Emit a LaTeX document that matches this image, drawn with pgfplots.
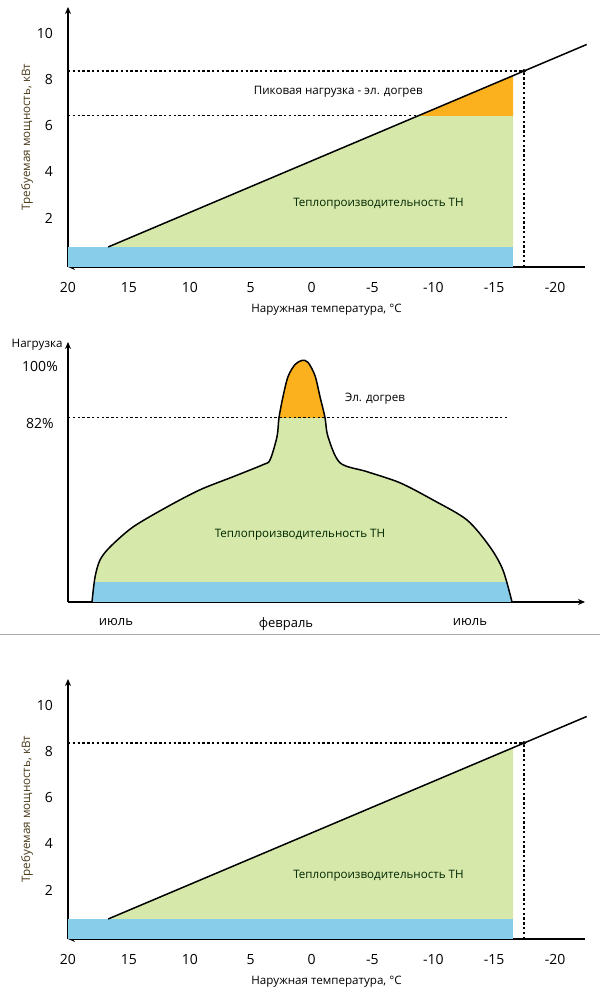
\documentclass[border=0pt]{standalone}
\usepackage{fontspec}
\setmainfont{Open Sans}
\usepackage{pgfplots}
\usepackage{pgfplotstable}
\pgfplotsset{compat=1.18}
\usetikzlibrary{arrows.meta}

\definecolor{hpgreen}{HTML}{D6E9AA}
\definecolor{baseblue}{HTML}{88CEEA}
\definecolor{peakorange}{HTML}{FBB01E}
\definecolor{labelbrown}{HTML}{4A3A1A}
\definecolor{sepgray}{HTML}{AAAAAA}

\newcommand{\ticksize}{\fontsize{7}{8}\selectfont}
\newcommand{\txtsize}{\fontsize{5.8}{7}\selectfont}

% annual load curve: day-of-season position vs. load, %
\pgfplotstableread{
x    y
24   24
27   31.8
32   37.2
42   41.3
65   47.6
99   53.9
132  59.3
165  63.4
195  67.2
202  68.7
209  76
211  82
215  88.6
220  94.9
227  98.7
234  100
240  99.4
247  95.2
252  88.6
257  82
260  76
272  67.8
299  65
332  61.5
365  56.1
399  49.8
422  41.3
435  34
444  24
}\loadcurve

\pgfplotsset{
  schema/.style={
    scale only axis, width=258.5pt, height=130pt,
    anchor=south west,
    axis lines=left,
    axis line style={line width=0.8pt, -{Stealth[length=3.5pt,width=3pt]}},
    major tick length=0pt,
    tick label style={font=\ticksize},
    /pgf/number format/assume math mode=true,
    clip=false,
  },
  tempaxis/.style={
    schema,
    x dir=reverse,
    xmin=-22.46, xmax=20, ymin=0, ymax=11.3,
    xtick={20,15,...,-20}, ytick={2,4,...,10},
    yticklabel style={xshift=-4pt, yshift=1.5pt},
    xticklabel style={yshift=-4pt},
    xlabel={Наружная температура, °C},
    ylabel={Требуемая мощность, кВт},
    every axis x label/.style={at={(rel axis cs:0.5,0)}, anchor=center,
      yshift=-21.5pt, font=\txtsize},
    every axis y label/.style={at={(rel axis cs:0,0.5)}, anchor=center,
      xshift=-20.5pt, rotate=90, font=\txtsize\color{labelbrown}},
  },
  guide/.style={line width=0.6pt, dash pattern=on 1.2pt off 1.2pt},
  demand/.style={line width=0.75pt, black},
}

\begin{document}
\begin{tikzpicture}
\path[use as bounding box] (0,0) rectangle (300pt,500pt);
\draw[line width=0.5pt, sepgray] (0,182.5pt) -- (300pt,182.5pt);

% heat demand vs. outdoor temperature, with peak top-up
\begin{axis}[tempaxis, at={(34pt,366.5pt)}]
  \addplot[fill=baseblue, draw=none] coordinates {(20,0) (20,0.87) (-16.55,0.87) (-16.55,0)} -- cycle;
  \addplot[fill=hpgreen, draw=none] coordinates {(16.7,0.87) (-8.75,6.57) (-16.55,6.57) (-16.55,0.87)} -- cycle;
  \addplot[fill=peakorange, draw=none] coordinates {(-8.75,6.57) (-16.55,8.32) (-16.55,6.57)} -- cycle;
  \addplot[guide] coordinates {(20,8.52) (-17.45,8.52)};
  \addplot[guide] coordinates {(20,6.57) (-8.75,6.57)};
  \addplot[guide] coordinates {(-17.45,0) (-17.45,8.52)};
  \addplot[demand] coordinates {(16.7,0.87) (-22.6,9.67)};
  \addplot[only marks, mark=*, mark size=0.8pt, black] coordinates {(-17.45,8.52)};
  \node[font=\txtsize] at (axis cs:-2.2,7.6) {Пиковая нагрузка - эл. догрев};
  \node[font=\txtsize, text=black!85!green] at (axis cs:-5.5,2.74) {Теплопроизводительность ТН};
\end{axis}

% load over the heating season
\begin{axis}[schema, at={(34pt,199pt)},
  xmin=0, xmax=517, ymin=24, ymax=105.8,
  xtick={48,218,402}, xticklabels={июль,февраль,июль},
  ytick={82,100}, yticklabels={82\%,100\%},
  yticklabel style={anchor=center, xshift=-14pt, yshift=-3pt},
  xticklabel style={yshift=-4.5pt, font=\fontsize{6.5}{8}\selectfont},
  ylabel={Нагрузка},
  every axis y label/.style={at={(rel axis cs:0,1)}, anchor=east,
    xshift=-2.5pt, yshift=-1.5pt, inner sep=0pt, font=\txtsize},
]
  \addplot[fill=hpgreen, draw=none, smooth] table {\loadcurve} \closedcycle;
  \begin{scope}
    \clip (axis cs:0,24) rectangle (axis cs:517,30);
    \addplot[fill=baseblue, draw=none, smooth] table {\loadcurve} \closedcycle;
  \end{scope}
  \begin{scope}
    \clip (axis cs:0,82) rectangle (axis cs:517,110);
    \addplot[fill=peakorange, draw=none, smooth] table {\loadcurve} \closedcycle;
  \end{scope}
  \addplot[guide] coordinates {(0,82) (440,82)};
  \addplot[demand, smooth] table {\loadcurve};
  \node[font=\txtsize] at (axis cs:307,88) {Эл. догрев};
  \node[font=\txtsize, text=black!85!green] at (axis cs:232,45) {Теплопроизводительность ТН};
\end{axis}

% heat demand fully covered by the heat pump
\begin{axis}[tempaxis, at={(34pt,30.5pt)}]
  \addplot[fill=baseblue, draw=none] coordinates {(20,0) (20,0.87) (-16.55,0.87) (-16.55,0)} -- cycle;
  \addplot[fill=hpgreen, draw=none] coordinates {(16.7,0.87) (-16.55,8.32) (-16.55,0.87)} -- cycle;
  \addplot[guide] coordinates {(20,8.52) (-17.45,8.52)};
  \addplot[guide] coordinates {(-17.45,0) (-17.45,8.52)};
  \addplot[demand] coordinates {(16.7,0.87) (-22.6,9.67)};
  \addplot[only marks, mark=*, mark size=0.8pt, black] coordinates {(-17.45,8.52)};
  \node[font=\txtsize, text=black!85!green] at (axis cs:-5.5,2.74) {Теплопроизводительность ТН};
\end{axis}
\end{tikzpicture}
\end{document}
